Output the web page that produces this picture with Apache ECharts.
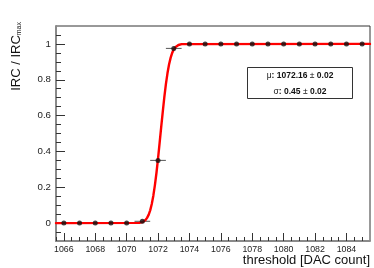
<!DOCTYPE html>
<html>
<head>
<meta charset="utf-8">
<script src="https://cdn.jsdelivr.net/npm/echarts@6/dist/echarts.min.js"></script>
<style>html,body{margin:0;padding:0;background:#fff}#c{width:374px;height:268px}</style>
</head>
<body>
<div id="c"></div>
<script>
// Measured points
const thresholds = [1066,1067,1068,1069,1070,1071,1072,1073,1074,1075,1076,1077,1078,1079,1080,1081,1082,1083,1084,1085];
const ratios     = [0,0,0,0,0,0.01,0.35,0.975,1,1,1,1,1,1,1,1,1,1,1,1];
const xErrors    = [0.5,0.5,0.5,0.5,0.5,0.5,0.5,0.5,0.5,0.5,0.5,0.5,0.5,0.5,0.5,0.5,0.5,0.5,0.5,0.5];
// Fit curve
const fitX = [1065.5,1070.8,1070.9,1071.0,1071.1,1071.2,1071.3,1071.4,1071.5,1071.6,1071.7,1071.8,1071.9,1072.0,1072.1,1072.2,1072.3,1072.4,1072.5,1072.6,1072.7,1072.8,1072.9,1073.0,1073.1,1073.2,1073.3,1073.4,1073.5,1073.6,1085.5];
const fitY = [0,0.001,0.003,0.005,0.010,0.017,0.029,0.046,0.071,0.107,0.153,0.212,0.281,0.361,0.447,0.535,0.621,0.703,0.775,0.836,0.885,0.922,0.950,0.969,0.981,0.990,0.994,0.997,0.999,1.0,1.0];
// Axis ticks
const xMajor = [1066,1068,1070,1072,1074,1076,1078,1080,1082,1084];
const xMinor = [1065.5,1066,1066.5,1067,1067.5,1068,1068.5,1069,1069.5,1070,1070.5,1071,1071.5,1072,1072.5,1073,1073.5,1074,1074.5,1075,1075.5,1076,1076.5,1077,1077.5,1078,1078.5,1079,1079.5,1080,1080.5,1081,1081.5,1082,1082.5,1083,1083.5,1084,1084.5,1085];
const yMajor = [0,0.2,0.4,0.6,0.8,1];
const yMinor = [-0.05,0,0.05,0.1,0.15,0.2,0.25,0.3,0.35,0.4,0.45,0.5,0.55,0.6,0.65,0.7,0.75,0.8,0.85,0.9,0.95,1,1.05];
// Fit results
const fitMu = ['1072.16','0.02'];
const fitSigma = ['0.45','0.02'];

const FONT = '"Liberation Sans", Arial, Helvetica, sans-serif';
const chart = echarts.init(document.getElementById('c'), null, {renderer:'canvas'});

const pts = thresholds.map((x,i)=>[x, ratios[i]]);
const errs = thresholds.map((x,i)=>[x, ratios[i], xErrors[i]]);
const fit = fitX.map((x,i)=>[x, fitY[i]]);

const axisCommonX = {type:'value', min:1065.5, max:1085.5, splitLine:{show:false}};
const axisCommonY = {type:'value', min:-0.1, max:1.1, splitLine:{show:false}};

chart.setOption({
  animation:false,
  backgroundColor:'#fff',
  grid:{left:56, right:4, top:26, bottom:27, show:true, borderColor:'#333', borderWidth:1, backgroundColor:'transparent'},
  xAxis:[
    Object.assign({}, axisCommonX, {
      position:'bottom',
      axisLine:{show:true, onZero:false, lineStyle:{color:'#8a8a8a', width:2}},
      axisTick:{show:true, inside:true, length:8, customValues:xMajor, lineStyle:{color:'#333', width:1}},
      axisLabel:{show:true, customValues:xMajor, margin:4, fontSize:8.8, color:'#222', fontFamily:FONT,
                 formatter:function(v){return String(v);}},
    }),
    Object.assign({}, axisCommonX, {
      position:'bottom',
      axisLine:{show:false, onZero:false},
      axisTick:{show:true, inside:true, length:4, customValues:xMinor, lineStyle:{color:'#333', width:1}},
      axisLabel:{show:false},
    })
  ],
  yAxis:[
    Object.assign({}, axisCommonY, {
      position:'left',
      axisLine:{show:true, onZero:false, lineStyle:{color:'#8a8a8a', width:2}},
      axisTick:{show:true, inside:true, length:9, customValues:yMajor, lineStyle:{color:'#333', width:1}},
      axisLabel:{show:true, customValues:yMajor, margin:5, fontSize:9.7, color:'#222', fontFamily:FONT,
                 formatter:function(v){return String(v);}},
    }),
    Object.assign({}, axisCommonY, {
      position:'left',
      axisLine:{show:false, onZero:false},
      axisTick:{show:true, inside:true, length:5, customValues:yMinor, lineStyle:{color:'#333', width:1}},
      axisLabel:{show:false},
    })
  ],
  series:[
    {
      type:'custom', xAxisIndex:0, yAxisIndex:0, z:2, silent:true,
      data:errs,
      renderItem:function(params, api){
        const x = api.value(0), y = api.value(1), e = api.value(2);
        const a = api.coord([x-e, y]), b = api.coord([x+e, y]);
        return {type:'line', shape:{x1:a[0], y1:a[1], x2:b[0], y2:b[1]}, style:{stroke:'#555', lineWidth:1}};
      }
    },
    {
      type:'line', xAxisIndex:0, yAxisIndex:0, z:3, data:fit, showSymbol:false, symbol:'none',
      smooth:false,
      lineStyle:{color:'#ff0000', width:2.4, join:'round', cap:'round'}
    },
    {
      type:'scatter', xAxisIndex:0, yAxisIndex:0, z:4, data:pts, symbol:'circle', symbolSize:5,
      itemStyle:{color:'#111'}
    }
  ],
  graphic:[
    {
      type:'text', x:15, y:22, rotation:Math.PI/2,
      style:{
        text:'{a|IRC / IRC}{s|max}', align:'right', verticalAlign:'middle',
        rich:{
          a:{fontSize:13, fontFamily:FONT, fill:'#111', verticalAlign:'bottom', lineHeight:15},
          s:{fontSize:7, fontFamily:FONT, fill:'#111', verticalAlign:'bottom', lineHeight:12}
        }
      }
    },
    {
      type:'text', x:370, y:260,
      style:{text:'threshold [DAC count]', align:'right', verticalAlign:'middle', fontSize:13, fontFamily:FONT, fill:'#111'}
    },
    {
      type:'rect', shape:{x:247.5, y:67.5, width:105, height:31}, style:{fill:'#fff', stroke:'#333', lineWidth:1}, z:10
    },
    {
      type:'text', x:300, y:76, z:11,
      style:{
        text:'{n|μ}{b|: ' + fitMu[0] + '}{n| ± }{b|' + fitMu[1] + '}', align:'center', verticalAlign:'middle',
        rich:{
          n:{fontSize:8.5, fontFamily:FONT, fill:'#111'},
          b:{fontSize:8.5, fontFamily:FONT, fontWeight:'bold', fill:'#111'}
        }
      }
    },
    {
      type:'text', x:300, y:92, z:11,
      style:{
        text:'{n|σ}{b|: ' + fitSigma[0] + '}{n| ± }{b|' + fitSigma[1] + '}', align:'center', verticalAlign:'middle',
        rich:{
          n:{fontSize:8.5, fontFamily:FONT, fill:'#111'},
          b:{fontSize:8.5, fontFamily:FONT, fontWeight:'bold', fill:'#111'}
        }
      }
    }
  ]
});
</script>
</body>
</html>
